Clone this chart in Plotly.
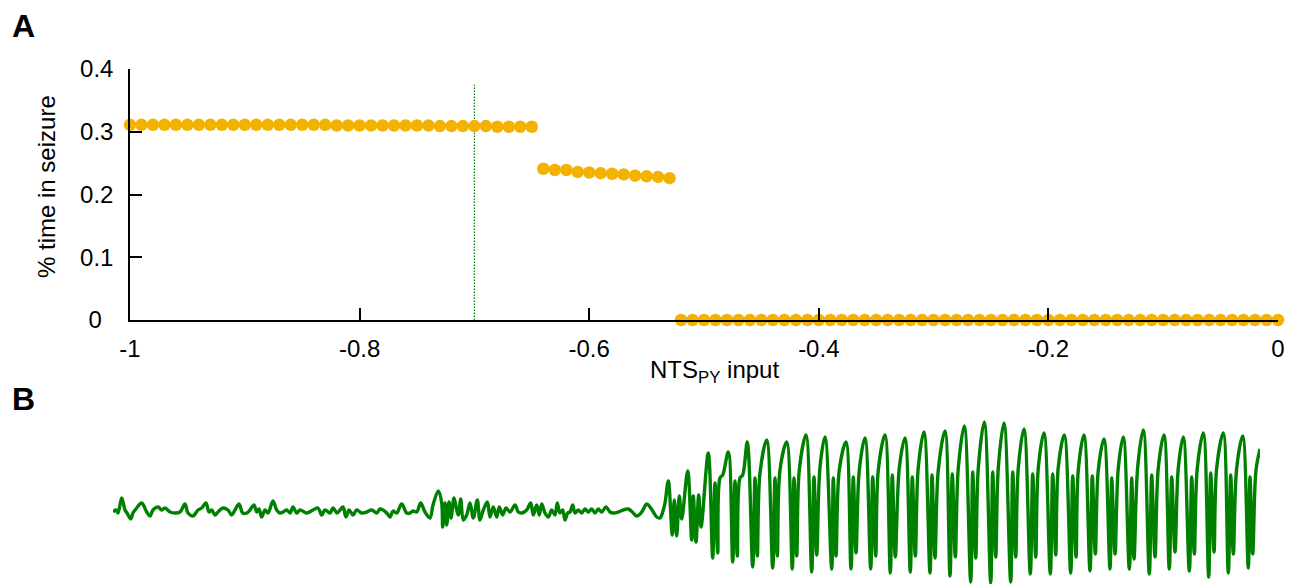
import plotly.graph_objects as go

# ---------------- Panel A data ----------------
nts_input_high = [-1.00, -0.99, -0.98, -0.97, -0.96, -0.95, -0.94, -0.93, -0.92, -0.91,
                  -0.90, -0.89, -0.88, -0.87, -0.86, -0.85, -0.84, -0.83, -0.82, -0.81,
                  -0.80, -0.79, -0.78, -0.77, -0.76, -0.75, -0.74, -0.73, -0.72, -0.71,
                  -0.70, -0.69, -0.68, -0.67, -0.66, -0.65]
seizure_high = [0.311, 0.311, 0.311, 0.311, 0.311, 0.311, 0.311, 0.311, 0.311, 0.311,
                0.311, 0.311, 0.311, 0.311, 0.311, 0.311, 0.311, 0.311, 0.310, 0.310,
                0.310, 0.310, 0.310, 0.310, 0.310, 0.310, 0.310, 0.309, 0.309, 0.309,
                0.309, 0.309, 0.308, 0.308, 0.308, 0.308]

nts_input_mid = [-0.64, -0.63, -0.62, -0.61, -0.60, -0.59, -0.58, -0.57, -0.56, -0.55, -0.54, -0.53]
seizure_mid = [0.241, 0.239, 0.239, 0.236, 0.235, 0.234, 0.233, 0.232, 0.230, 0.229, 0.228, 0.226]

nts_input_low = [-0.52, -0.51, -0.50, -0.49, -0.48, -0.47, -0.46, -0.45, -0.44, -0.43,
                 -0.42, -0.41, -0.40, -0.39, -0.38, -0.37, -0.36, -0.35, -0.34, -0.33,
                 -0.32, -0.31, -0.30, -0.29, -0.28, -0.27, -0.26, -0.25, -0.24, -0.23,
                 -0.22, -0.21, -0.20, -0.19, -0.18, -0.17, -0.16, -0.15, -0.14, -0.13,
                 -0.12, -0.11, -0.10, -0.09, -0.08, -0.07, -0.06, -0.05, -0.04, -0.03,
                 -0.02, -0.01, 0.00]
seizure_low = [0, 0, 0, 0, 0, 0, 0, 0, 0, 0,
               0, 0, 0, 0, 0, 0, 0, 0, 0, 0,
               0, 0, 0, 0, 0, 0, 0, 0, 0, 0,
               0, 0, 0, 0, 0, 0, 0, 0, 0, 0,
               0, 0, 0, 0, 0, 0, 0, 0, 0, 0,
               0, 0, 0]

marker_input = -0.7
marker_span = [0, 0.375]

x_ticks = [-1, -0.8, -0.6, -0.4, -0.2, 0]
x_ticklabels = ["-1", "-0.8", "-0.6", "-0.4", "-0.2", "0"]
y_ticks = [0, 0.1, 0.2, 0.3, 0.4]
y_ticklabels = ["0\u00a0\u2009", "0.1", "0.2", "0.3", "0.4"]

# ---------------- Panel B data (LFP trace, arbitrary units) ----------------
lfp_t = [113, 116, 118, 121.7, 125, 127, 130.7, 133, 136.7, 141.7, 146.7, 150, 153, 158, 161.7,
         165, 170, 175, 180, 185, 188, 193, 198, 201.7, 206, 209, 211.7, 215, 218, 223, 228,
         231.7, 235, 239, 242.7, 246.7, 250, 254, 256.7, 259, 261.7, 265, 268, 273, 276.7, 280,
         283, 286.7, 290, 293, 296.7, 300, 306.7, 313, 318, 321.7, 325, 330, 333, 337, 340, 343,
         346, 349, 353, 356.7, 361.7, 366.7, 371.7, 376.7, 380, 383, 386.7, 390, 393, 396.7,
         401.7, 406.7, 410, 413, 416.7, 420.7, 425, 430, 433, 438.3, 441.7, 442.7, 445, 446.7,
         449, 451, 454, 456.7, 458.3, 460.7, 463.3, 466.7, 470, 473.3, 477.3, 480, 483.3, 487.3,
         490, 493.3, 496.7, 499.3, 502.7, 506, 510, 515, 518.3, 521.7, 526.7, 530.7, 533.3,
         536.7, 539.3, 541.7, 545, 548.3, 551.7, 555, 557.3, 560, 562.7, 565, 567.7, 570, 572.7,
         575, 578.3, 581.7, 585, 588.3, 591.7, 595, 598.3, 601.7, 606, 610, 613.3, 618.3, 623.3,
         628.3, 633.3, 636.7, 641.7, 646.7, 650, 653.3, 656.7, 660, 662.7, 665, 668.3,
         672.3, 674.3, 676.7, 679.3, 681.7, 687.7, 691.7, 693.3, 696, 698.7, 701, 708.3, 712.7,
         715, 717.7, 720, 722.7, 728.3, 732.7, 735, 737.3, 740, 742.7, 747.3, 752.7, 755, 757.3,
         760, 766.7, 772.7, 775, 777.3, 780, 786.7, 792.3, 794, 796.7, 799.3, 806, 811.7, 814,
         816.7, 820, 825, 831.7, 833.3, 836, 839.3, 846, 851, 853.3, 856, 859.3, 865, 870.7,
         872.7, 875.7, 878.3, 885, 890.3, 892.3, 895.3, 899.3, 905, 910.3, 912.3, 915.3, 918.3,
         924, 930, 932, 935, 938.3, 945, 950, 952.3, 955.3, 958.3, 964.3, 970.7, 972.7, 975.7,
         978.3, 984.3, 990.7, 992.7, 995.7, 998.3, 1004, 1010.7, 1012.7, 1015.7, 1018.3, 1024,
         1030.3, 1032.7, 1035.7, 1038.3, 1044, 1050.3, 1052.7, 1055.7, 1058.3, 1064.3, 1070.7,
         1072.7, 1076, 1078.3, 1084, 1090, 1092.3, 1095.3, 1098.3, 1104, 1110, 1111.7, 1115,
         1118.3, 1123.3, 1129.3, 1131.7, 1134, 1137.7, 1143.3, 1149.3, 1151.7, 1155, 1158.3,
         1164, 1169.3, 1171.7, 1175, 1178.3, 1183.3, 1189.3, 1191.7, 1194.3, 1197.3, 1203.3,
         1208.7, 1210.7, 1214, 1216.7, 1223.3, 1228.3, 1230.7, 1233.3, 1236.7, 1242.7, 1248.3,
         1250, 1252.7, 1256, 1260]
lfp_v = [0, 2, -1, 14, 2, -1, -7, -1, 4, 9, 0, -4, 2, 5, 2,
         4, 0, -1, 0, 8, -1, -4, 2, 4, 9, 0, 2, -3, 0, 4, 2,
         -3, 2, 8, -1, -1, 2, 7, 0, 3, -5, 2, -1, 11, 2, -1,
         0, 2, -1, 5, -1, 2, -1, 2, 4, -3, 2, -1, 4, -1, 2, 5,
         -5, 2, -3, 2, -1, 0, 2, -1, 3, 2, -1, -5, 1, -1,
         8, -1, -1, 1, 0, 9, 0, -6, 7, 21, 9, -15, 9, -13,
         10, -6, 14, 2, -3, 13, -8, -3, 9, -6, 12, -8, 2, 10,
         -5, 5, -5, 5, -3, 4, 0, 7, 0, -1, 2, 9, -3,
         7, -3, 8, -1, -5, 2, -3, 9, -1, 2, -8, -1, 0, 7,
         -1, 2, -1, 3, 0, 3, -1, 3, 0, 5, 0, -1, 0, 2,
         3, -1, -4, 0, 8, 5, 0, -5, -6, 0, 9, 31,
         -23, 12, -24, 16, -7, 41, -28, 16, -30, 17, -15, 59, -46,
         29, -41, 34, 37, 60, -50, 31, -44, 34, 37, 70, -55, 34, -44,
         39, 72, -56, 34, -44, 42, 70, -57, 34, -44, 42, 77, -60, 35,
         -43, 45, 75, -57, 34, -44, 42, 70, -57, 35, -41, 42, 74, -57,
         35, -44, 42, 77, -61, 37, -45, 44, 74, -60, 35, -44, 45,
         80, -61, 37, -46, 42, 81, -64, 38, -45, 44, 86, -70, 40, -46,
         44, 90, -71, 40, -45, 44, 89, -70, 40, -45, 44, 83,
         -62, 38, -45, 44, 79, -62, 38, -43, 45, 77, -61,
         36, -45, 42, 77, -59, 36, -42, 42, 73, -57, 34, -42,
         44, 75, -57, 34, -47, 45, 82, -62, 37, -45, 44,
         77, -57, 35, -40, 44, 75, -59, 35, -42, 44, 79,
         -65, 39, -40, 44, 79, -61, 37, -42, 44, 76, -56,
         35, -42, 42, 63]

# ---------------- Styling ----------------
# The page body adds an 8 px margin, so the figure is made 8 px smaller and
# all layout positions (given in window pixels) are shifted by that offset.
OFF = 8
W, H = 1299 - OFF, 584 - OFF
DOT = "#F3B200"
GREEN = "#008000"
FONT = "Liberation Sans, Arial, Helvetica, sans-serif"


def fx(px):
    return (px - OFF) / W


def fy(py):
    return 1 - (py - OFF) / H


fig = go.Figure()

fig.add_trace(go.Scatter(x=[marker_input, marker_input], y=marker_span, mode="lines",
                         line=dict(color=GREEN, width=1.2, dash="1.5px,1.5px"),
                         xaxis="x", yaxis="y", hoverinfo="skip", showlegend=False))
for xs, ys in [(nts_input_high, seizure_high), (nts_input_mid, seizure_mid),
               (nts_input_low, seizure_low)]:
    fig.add_trace(go.Scatter(x=xs, y=ys, mode="markers",
                             marker=dict(size=12.5, color=DOT, line=dict(width=0)),
                             cliponaxis=False, xaxis="x", yaxis="y", showlegend=False))

fig.add_trace(go.Scatter(x=lfp_t, y=lfp_v, mode="lines",
                         line=dict(color=GREEN, width=3.4, shape="spline", smoothing=1.0),
                         cliponaxis=False,
                         xaxis="x2", yaxis="y2", showlegend=False))

axis_common = dict(showline=True, linecolor="black", linewidth=1.5, ticks="inside",
                   ticklen=12, tickwidth=1.5, tickcolor="black", showgrid=False,
                   zeroline=False, automargin=False,
                   tickfont=dict(size=24, color="black", family=FONT))

fig.update_layout(
    template="none",
    width=W, height=H,
    margin=dict(l=0, r=0, t=0, b=0, pad=0, autoexpand=False),
    paper_bgcolor="white", plot_bgcolor="white",
    font=dict(family=FONT, color="black"),
    showlegend=False,
    xaxis=dict(domain=[fx(130), fx(1278)], range=[-1, 0], anchor="y",
               tickvals=x_ticks, ticktext=x_ticklabels, ticklabelstandoff=6, **axis_common),
    yaxis=dict(domain=[fy(320), fy(69)], range=[0, 0.4], anchor="x",
               tickvals=y_ticks, ticktext=y_ticklabels, ticklabelstandoff=10, **axis_common),
    xaxis2=dict(domain=[fx(113), fx(1260)], range=[113, 1260], anchor="y2",
                visible=False, automargin=False),
    yaxis2=dict(domain=[0, fy(417)], range=[-72, 95], anchor="x2",
                visible=False, automargin=False),
    annotations=[
        dict(text="<b>A</b>", x=fx(23), y=fy(26), xref="paper", yref="paper",
             showarrow=False, xanchor="center", yanchor="middle",
             font=dict(size=32, family=FONT, color="black")),
        dict(text="<b>B</b>", x=fx(23), y=fy(399), xref="paper", yref="paper",
             showarrow=False, xanchor="center", yanchor="middle",
             font=dict(size=32, family=FONT, color="black")),
        dict(text="% time in seizure", x=fx(47), y=fy(187), xref="paper", yref="paper",
             showarrow=False, textangle=-90, xanchor="center", yanchor="middle",
             font=dict(size=24, family=FONT, color="black")),
        dict(text="NTS<sub>PY</sub> input", x=fx(714), y=fy(371), xref="paper",
             yref="paper", showarrow=False, xanchor="center", yanchor="middle",
             font=dict(size=24, family=FONT, color="black")),
    ],
)

fig.write_html("out.html")
